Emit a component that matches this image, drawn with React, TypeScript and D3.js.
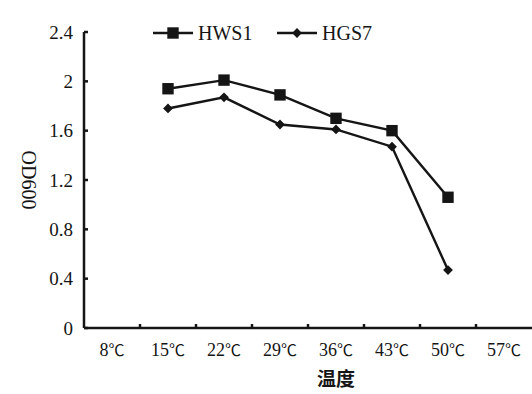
import React, { useEffect, useRef } from "react";
import * as d3 from "d3";

const temps = ["8℃", "15℃", "22℃", "29℃", "36℃", "43℃", "50℃", "57℃"];
const seriesTemps = ["15℃", "22℃", "29℃", "36℃", "43℃", "50℃"];
const hws1 = [1.94, 2.01, 1.89, 1.7, 1.6, 1.06];
const hgs7 = [1.78, 1.87, 1.65, 1.61, 1.47, 0.47];
const yTicks = [0, 0.4, 0.8, 1.2, 1.6, 2, 2.4];

const W = 532;
const H = 394;

const App = () => {
  const ref = useRef<SVGSVGElement>(null);

  useEffect(() => {
    const svg = d3.select(ref.current);
    svg.selectAll("*").remove();

    const left = 84;
    const x = d3.scaleBand().domain(temps).range([left, left + 56 * temps.length]);
    const y = d3.scaleLinear().domain([0, 2.4]).range([328, 32]);
    const font = "'Liberation Serif', 'Times New Roman', serif";
    const cjk = "'Noto Sans CJK SC', sans-serif";
    const ink = "#151515";

    // axes
    svg.append("line")
      .attr("x1", left).attr("x2", left)
      .attr("y1", y(2.4)).attr("y2", y(0))
      .attr("stroke", ink).attr("stroke-width", 2.5);
    svg.append("line")
      .attr("x1", left).attr("x2", W)
      .attr("y1", y(0)).attr("y2", y(0))
      .attr("stroke", ink).attr("stroke-width", 2.5);

    // y ticks
    yTicks.forEach(t => {
      svg.append("line")
        .attr("x1", left).attr("x2", left + 4)
        .attr("y1", y(t)).attr("y2", y(t))
        .attr("stroke", ink).attr("stroke-width", 2.5);
      svg.append("text")
        .attr("x", left - 11).attr("y", y(t))
        .attr("dy", "0.35em")
        .attr("text-anchor", "end")
        .style("font-family", font)
        .style("font-size", "19px")
        .style("fill", ink)
        .text(t === 0 ? "0" : d3.format(".1~f")(t));
    });

    // x ticks between bands
    temps.slice(1).forEach(c => {
      const px = x(c)!;
      svg.append("line")
        .attr("x1", px).attr("x2", px)
        .attr("y1", y(0)).attr("y2", y(0) - 4)
        .attr("stroke", ink).attr("stroke-width", 2.5);
    });
    temps.forEach(c => {
      const t = svg.append("text")
        .attr("x", x(c)! + x.bandwidth() / 2)
        .attr("y", 356)
        .attr("text-anchor", "middle")
        .style("font-family", font)
        .style("font-size", "18px")
        .style("fill", ink);
      t.append("tspan").text(c.replace("℃", ""));
      t.append("tspan")
        .style("font-family", cjk)
        .style("font-size", "16px")
        .text("℃");
    });

    // axis titles
    svg.append("text")
      .attr("transform", `translate(22,${y(1.2)}) rotate(90)`)
      .attr("text-anchor", "middle")
      .style("font-family", font)
      .style("font-size", "20px")
      .style("fill", ink)
      .text("OD600");
    svg.append("text")
      .attr("x", 336).attr("y", 386)
      .attr("text-anchor", "middle")
      .style("font-family", cjk)
      .style("font-weight", "bold")
      .style("font-size", "19px")
      .style("fill", ink)
      .text("温度");

    const cx = (c: string) => x(c)! + x.bandwidth() / 2;
    const line = d3.line<number>()
      .x((_, i) => cx(seriesTemps[i]))
      .y(d => y(d));

    const sq = d3.symbol().type(d3.symbolSquare).size(130);
    const dia = d3.symbol().type(d3.symbolSquare).size(48);

    const drawSeries = (vals: number[], sym: any, rot: number) => {
      svg.append("path")
        .attr("d", line(vals))
        .attr("fill", "none")
        .attr("stroke", ink)
        .attr("stroke-width", 2.4);
      svg.selectAll(null)
        .data(vals)
        .enter()
        .append("path")
        .attr("d", sym())
        .attr("transform", (d, i) => `translate(${cx(seriesTemps[i])},${y(d)}) rotate(${rot})`)
        .attr("fill", ink);
    };
    drawSeries(hws1, sq, 0);
    drawSeries(hgs7, dia, 45);

    // legend
    const legend = [
      { name: "HWS1", sym: sq, rot: 0, x0: 153 },
      { name: "HGS7", sym: dia, rot: 45, x0: 277 },
    ];
    legend.forEach(l => {
      svg.append("line")
        .attr("x1", l.x0).attr("x2", l.x0 + 40)
        .attr("y1", 33).attr("y2", 33)
        .attr("stroke", ink).attr("stroke-width", 2.4);
      svg.append("path")
        .attr("d", l.sym())
        .attr("transform", `translate(${l.x0 + 20},33) rotate(${l.rot})`)
        .attr("fill", ink);
      svg.append("text")
        .attr("x", l.x0 + 45).attr("y", 33)
        .attr("dy", "0.35em")
        .style("font-family", font)
        .style("font-size", "20px")
        .style("fill", ink)
        .text(l.name);
    });
  }, []);

  return (
    <svg
      ref={ref}
      width={W}
      height={H}
      style={{ position: "absolute", left: 0, top: 0, background: "#fff" }}
    />
  );
};

export default App;
